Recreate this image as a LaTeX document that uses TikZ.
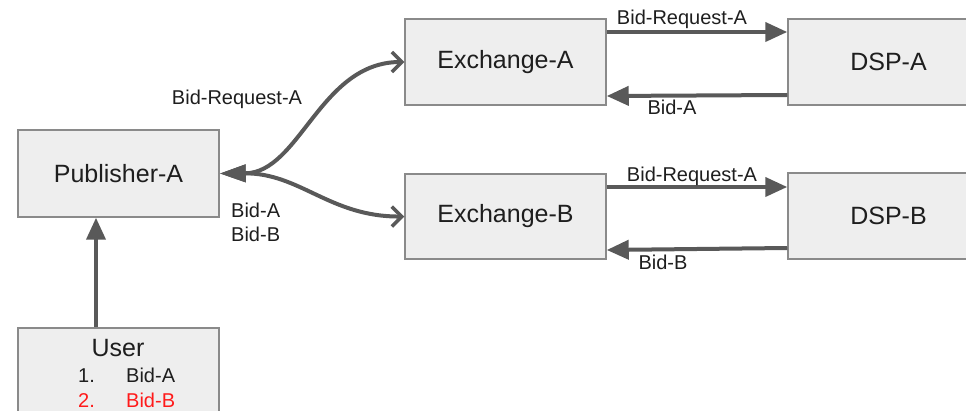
\documentclass[tikz,border=0pt]{standalone}
\usepackage{fontspec}
\setmainfont{Liberation Sans}
\usetikzlibrary{arrows.meta}
\definecolor{boxfill}{HTML}{EEEEEE}
\definecolor{boxline}{HTML}{8A8A8A}
\definecolor{arrowgray}{HTML}{595959}
\definecolor{ink}{HTML}{1E1E1E}
\definecolor{bidred}{HTML}{FF1A1A}
\tikzset{
  entity/.style={draw=boxline, line width=1.5pt, fill=boxfill, rectangle,
    minimum width=201pt, minimum height=86pt, inner sep=0pt,
    text=ink, font=\fontsize{25}{30}\selectfont},
  lbl/.style={text=ink, font=\fontsize{20}{24}\selectfont, inner sep=0pt, anchor=base},
  flow/.style={draw=arrowgray, line width=4pt, -{Triangle[length=22pt,width=19pt]}},
  fork/.style={draw=arrowgray, line width=4pt,
    {Triangle[length=26pt,width=17pt]}-{Straight Barb[length=10pt,width=20pt,line width=3.5pt]}}
}
\begin{document}
\begin{tikzpicture}[x=1pt,y=-1pt]
  \useasboundingbox (0,0) rectangle (966,411);
  \begin{scope}
    \clip (0,0) rectangle (966,411);

    % boxes
    \node[entity, minimum height=87pt] (pub) at (118.5,173.5) {Publisher-A};
    \node[entity] (exA) at (505.5,62) {Exchange-A};
    \node[entity, minimum height=85pt] (exB) at (505.5,216.5) {Exchange-B};
    \node[entity] (dspA) at (888.5,62) {DSP-A};
    \node[entity] (dspB) at (888.5,216) {DSP-B};
    \node[entity, minimum height=92pt] (user) at (118.5,374) {};

    % contents of the user box
    \node[lbl, font=\fontsize{25}{30}\selectfont] (utitle) at (118,356) {User};
    \node[lbl, anchor=base west] (n1) at (78,382) {1.};
    \node[lbl, anchor=base west] (b1) at (126,382) {Bid-A};
    \node[lbl, anchor=base west, text=bidred] (n2) at (78,407) {2.};
    \node[lbl, anchor=base west, text=bidred] (b2) at (126,407) {Bid-B};

    % user to publisher
    \draw[flow] ([xshift=-22.5pt]user.north) -- ([xshift=-22.5pt]pub.south);

    % publisher to the exchanges
    \draw[fork] (pub.east) .. controls (300,173) and (320,62) .. (exA.west);
    \draw[fork] (pub.east) .. controls (300,173) and (330,217) .. (exB.west);

    % exchanges and DSPs
    \draw[flow] ([yshift=30pt]exA.east) -- ([yshift=30pt]dspA.west);
    \draw[flow] ([yshift=-33pt]dspA.west) -- ([yshift=-34pt]exA.east);
    \draw[flow] ([yshift=29.5pt]exB.east) -- ([yshift=29pt]dspB.west);
    \draw[flow] ([yshift=-32pt]dspB.west) -- ([yshift=-33.5pt]exB.east);

    % labels
    \node[lbl] (lreqA) at (682,25) {Bid-Request-A};
    \node[lbl] (lbidA) at (672,115) {Bid-A};
    \node[lbl] (lreqB) at (692,182) {Bid-Request-A};
    \node[lbl] (lbidB) at (663,270) {Bid-B};
    \node[lbl] (lreqP) at (237,105) {Bid-Request-A};
    \node[lbl, anchor=base west] (lbidPA) at (231,218) {Bid-A};
    \node[lbl, anchor=base west] (lbidPB) at (231,242) {Bid-B};
  \end{scope}
\end{tikzpicture}
\end{document}
